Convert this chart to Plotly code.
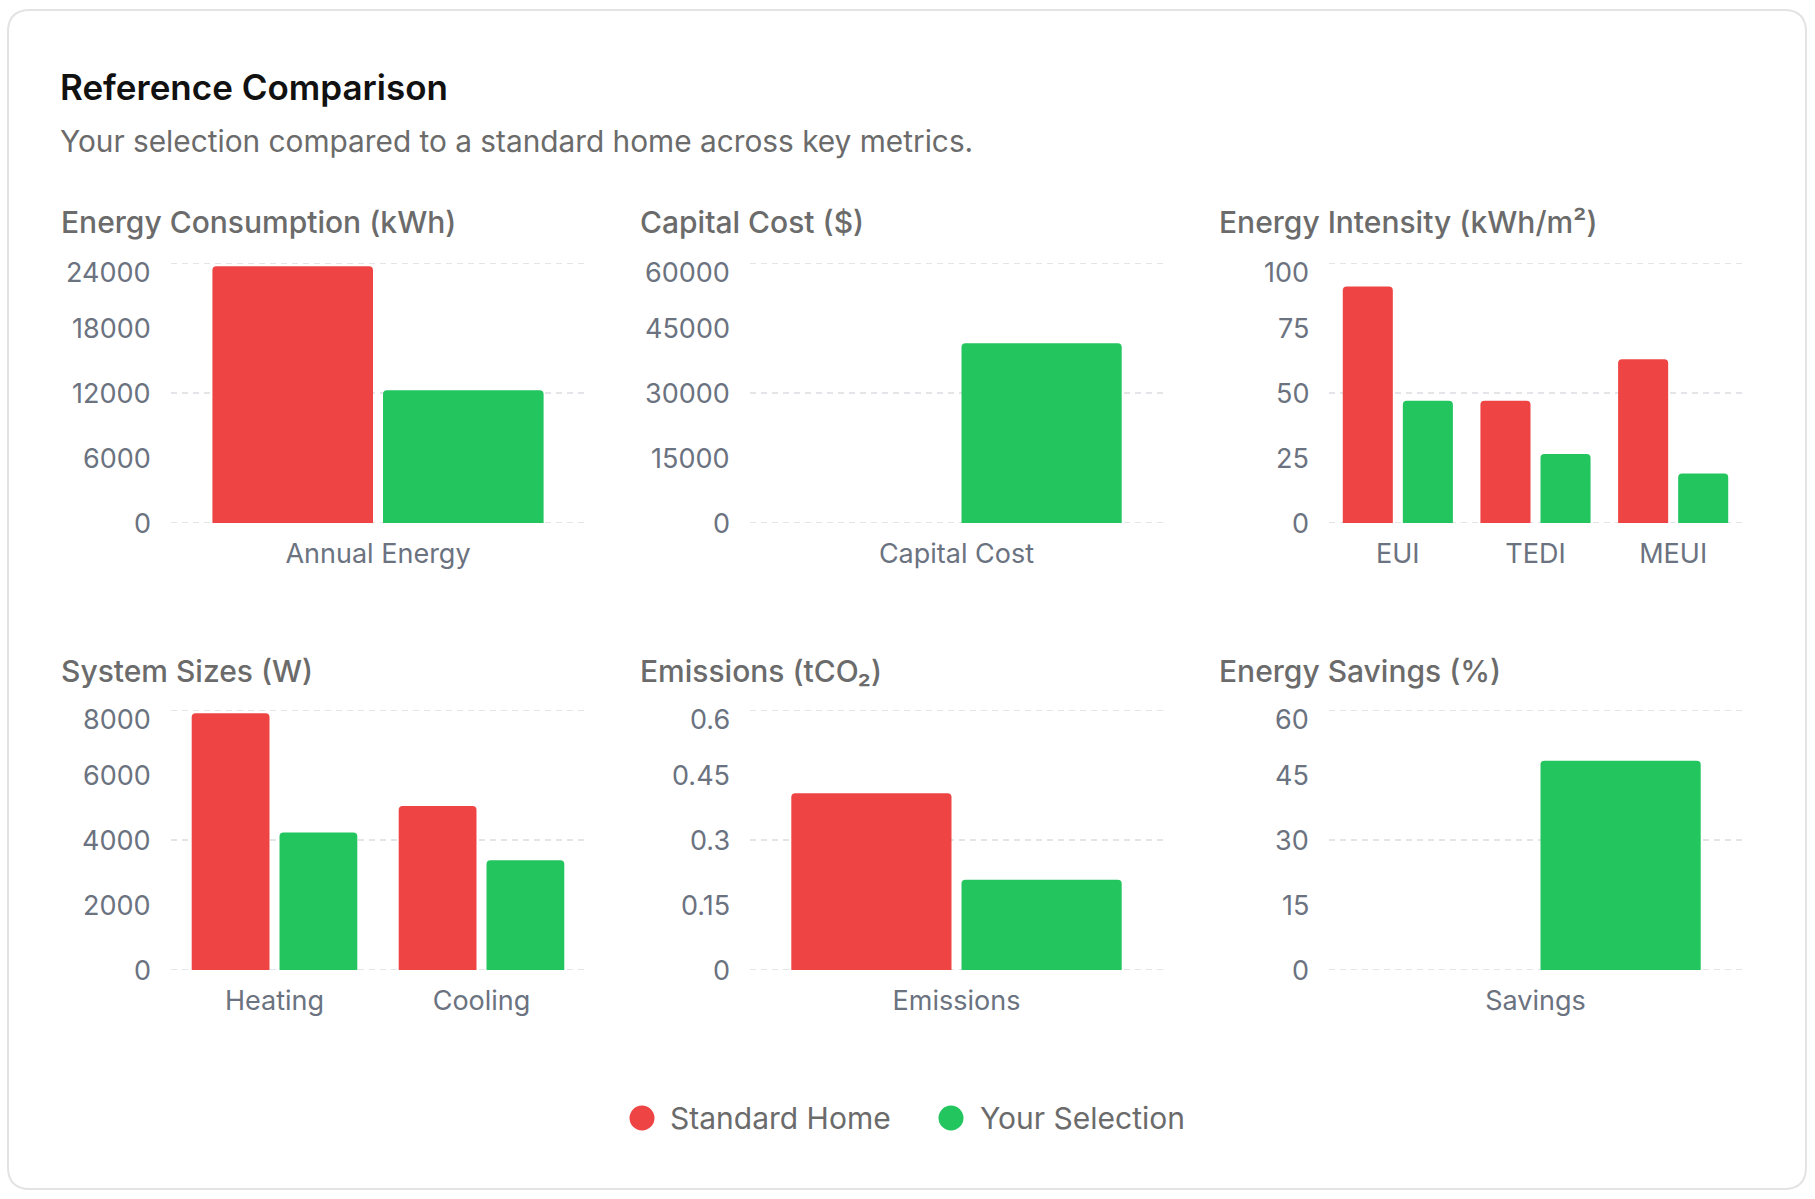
import plotly.graph_objects as go

W, H = 1815, 1199
FONT = "Inter, Roboto, 'Noto Sans', sans-serif"

# ---------------- data ----------------
series_names = ["Standard Home", "Your Selection"]
series_colors = ["#ef4444", "#22c55e"]

panel_titles = [
    "Energy Consumption (kWh)",
    "Capital Cost ($)",
    "Energy Intensity (kWh/m²)",
    "System Sizes (W)",
    "Emissions (tCO₂)",
    "Energy Savings (%)",
]

energy_categories = ["Annual Energy"]
energy_standard = [23700]
energy_selection = [12250]

cost_categories = ["Capital Cost"]
cost_standard = [0]
cost_selection = [41500]

intensity_categories = ["EUI", "TEDI", "MEUI"]
intensity_standard = [91, 47, 63]
intensity_selection = [47, 26.5, 19]

system_categories = ["Heating", "Cooling"]
system_standard = [7900, 5050]
system_selection = [4230, 3380]

emissions_categories = ["Emissions"]
emissions_standard = [0.408]
emissions_selection = [0.208]

savings_categories = ["Savings"]
savings_standard = [0]
savings_selection = [48.3]

energy_ticks = [0, 6000, 12000, 18000, 24000]
cost_ticks = [0, 15000, 30000, 45000, 60000]
intensity_ticks = [0, 25, 50, 75, 100]
system_ticks = [0, 2000, 4000, 6000, 8000]
emissions_ticks = [0, 0.15, 0.3, 0.45, 0.6]
savings_ticks = [0, 15, 30, 45, 60]

energy_tick_labels = ["0", "6000", "12000", "18000", "24000"]
cost_tick_labels = ["0", "15000", "30000", "45000", "60000"]
intensity_tick_labels = ["0", "25", "50", "75", "100"]
system_tick_labels = ["0", "2000", "4000", "6000", "8000"]
emissions_tick_labels = ["0", "0.15", "0.3", "0.45", "0.6"]
savings_tick_labels = ["0", "15", "30", "45", "60"]

panels = [
    (energy_categories, energy_standard, energy_selection, energy_ticks, energy_tick_labels),
    (cost_categories, cost_standard, cost_selection, cost_ticks, cost_tick_labels),
    (intensity_categories, intensity_standard, intensity_selection, intensity_ticks, intensity_tick_labels),
    (system_categories, system_standard, system_selection, system_ticks, system_tick_labels),
    (emissions_categories, emissions_standard, emissions_selection, emissions_ticks, emissions_tick_labels),
    (savings_categories, savings_standard, savings_selection, savings_ticks, savings_tick_labels),
]

# ---------------- layout geometry (pixels) ----------------
col_x = [(171, 585), (750, 1163), (1329, 1742)]
col_title_x = [59, 638, 1217]
row_y = [(263, 523), (710, 970)]
row_title_y = [222, 671]
GROUP_FRAC = 0.8      # share of each category band used by the bar pair
BAR_GAP_PX = 10       # pixel gap between the two bars of a pair

def px(x):
    return x / W

def py(y):
    return 1 - y / H

fig = go.Figure()
annotations = []
shapes = []
layout_axes = {}

TICK_COLOR = "#6b7280"
TITLE_COLOR = "#6b6b6b"
GRID_COLOR = "#e3e5e8"

for i, (cats, std, sel, ticks, tlabels) in enumerate(panels):
    r, c = divmod(i, 3)
    ax = "" if i == 0 else str(i + 1)
    xa, ya = "x" + ax, "y" + ax
    x0, x1 = col_x[c]
    yt, yb = row_y[r]
    band_px = (x1 - x0) / len(cats)
    gap_u = BAR_GAP_PX / band_px
    bw = (GROUP_FRAC - gap_u) / 2
    offsets = [-GROUP_FRAC / 2, -GROUP_FRAC / 2 + bw + gap_u]
    for name, color, vals, off in zip(series_names, series_colors, [std, sel], offsets):
        fig.add_trace(go.Bar(
            x=cats, y=vals, name=name, xaxis=xa, yaxis=ya,
            width=bw, offset=off,
            marker=dict(color=color, line=dict(width=0), cornerradius=4),
            showlegend=False, hoverinfo="skip",
        ))
    layout_axes["xaxis" + ax] = dict(
        domain=[px(x0), px(x1)], anchor=ya, type="category",
        range=[-0.5, len(cats) - 0.5],
        showgrid=False, showline=False, zeroline=False, ticks="",
        ticklabelstandoff=12,
        tickfont=dict(family=FONT, size=27, color=TICK_COLOR),
        fixedrange=True,
    )
    layout_axes["yaxis" + ax] = dict(
        domain=[py(yb), py(yt)], anchor=xa, range=[0, ticks[-1]],
        showticklabels=False, showgrid=False,
        zeroline=False, showline=False, ticks="", fixedrange=True,
    )
    # dashed grid lines at bottom, middle and top
    for gv in (ticks[0], ticks[2], ticks[4]):
        shapes.append(dict(
            type="line", xref=xa + " domain", yref=ya, x0=0, x1=1, y0=gv, y1=gv,
            line=dict(color=GRID_COLOR, width=2, dash="6px,5px"), layer="below",
        ))
    # y tick labels
    for v, lab in zip(ticks, tlabels):
        annotations.append(dict(
            xref=xa + " domain", yref=ya, x=0, y=v, text=lab,
            xanchor="right", yanchor="middle", xshift=-18,
            yshift=-9 if v == ticks[-1] else 0,
            showarrow=False, font=dict(family=FONT, size=27, color=TICK_COLOR),
        ))
    # panel title
    annotations.append(dict(
        xref="paper", yref="paper", x=px(col_title_x[c]), y=py(row_title_y[r]),
        text=panel_titles[i], xanchor="left", yanchor="middle", showarrow=False,
        font=dict(family=FONT, size=30, color=TITLE_COLOR, weight=500),
    ))

# main title and subtitle
annotations.append(dict(
    xref="paper", yref="paper", x=px(58), y=py(87), text="Reference Comparison",
    xanchor="left", yanchor="middle", showarrow=False,
    font=dict(family=FONT, size=35, color="#111111", weight=600),
))
annotations.append(dict(
    xref="paper", yref="paper", x=px(58), y=py(141),
    text="Your selection compared to a standard home across key metrics.",
    xanchor="left", yanchor="middle", showarrow=False,
    font=dict(family=FONT, size=29.8, color="#6b6b6b"),
))

# legend (circles + labels)
legend_circle_x = [642, 951]
legend_text_x = [668, 978]
legend_y = 1118
for name, color, cx, tx in zip(series_names, series_colors, legend_circle_x, legend_text_x):
    shapes.append(dict(
        type="circle", xref="paper", yref="paper", xsizemode="pixel", ysizemode="pixel",
        xanchor=px(cx), yanchor=py(legend_y), x0=-12.5, x1=12.5, y0=-12.5, y1=12.5,
        fillcolor=color, line=dict(width=0),
    ))
    annotations.append(dict(
        xref="paper", yref="paper", x=px(tx), y=py(legend_y), text=name,
        xanchor="left", yanchor="middle", showarrow=False,
        font=dict(family=FONT, size=30, color="#6b6b6b"),
    ))

# card border with rounded corners
cx0, cy0, cx1, cy1, rad = 8, 10, 1806, 1189, 22
path = (
    f"M {px(cx0 + rad)} {py(cy0)} L {px(cx1 - rad)} {py(cy0)} "
    f"Q {px(cx1)} {py(cy0)} {px(cx1)} {py(cy0 + rad)} "
    f"L {px(cx1)} {py(cy1 - rad)} Q {px(cx1)} {py(cy1)} {px(cx1 - rad)} {py(cy1)} "
    f"L {px(cx0 + rad)} {py(cy1)} Q {px(cx0)} {py(cy1)} {px(cx0)} {py(cy1 - rad)} "
    f"L {px(cx0)} {py(cy0 + rad)} Q {px(cx0)} {py(cy0)} {px(cx0 + rad)} {py(cy0)} Z"
)
shapes.append(dict(type="path", xref="paper", yref="paper", path=path,
                   line=dict(color="#e3e3e3", width=2), fillcolor="rgba(0,0,0,0)", layer="below"))

fig.update_layout(
    width=W, height=H, margin=dict(l=0, r=0, t=0, b=0),
    paper_bgcolor="white", plot_bgcolor="white",
    barmode="overlay",
    showlegend=False, annotations=annotations, shapes=shapes,
    font=dict(family=FONT),
    **layout_axes,
)

fig.write_html("out.html", config={"displayModeBar": False})
